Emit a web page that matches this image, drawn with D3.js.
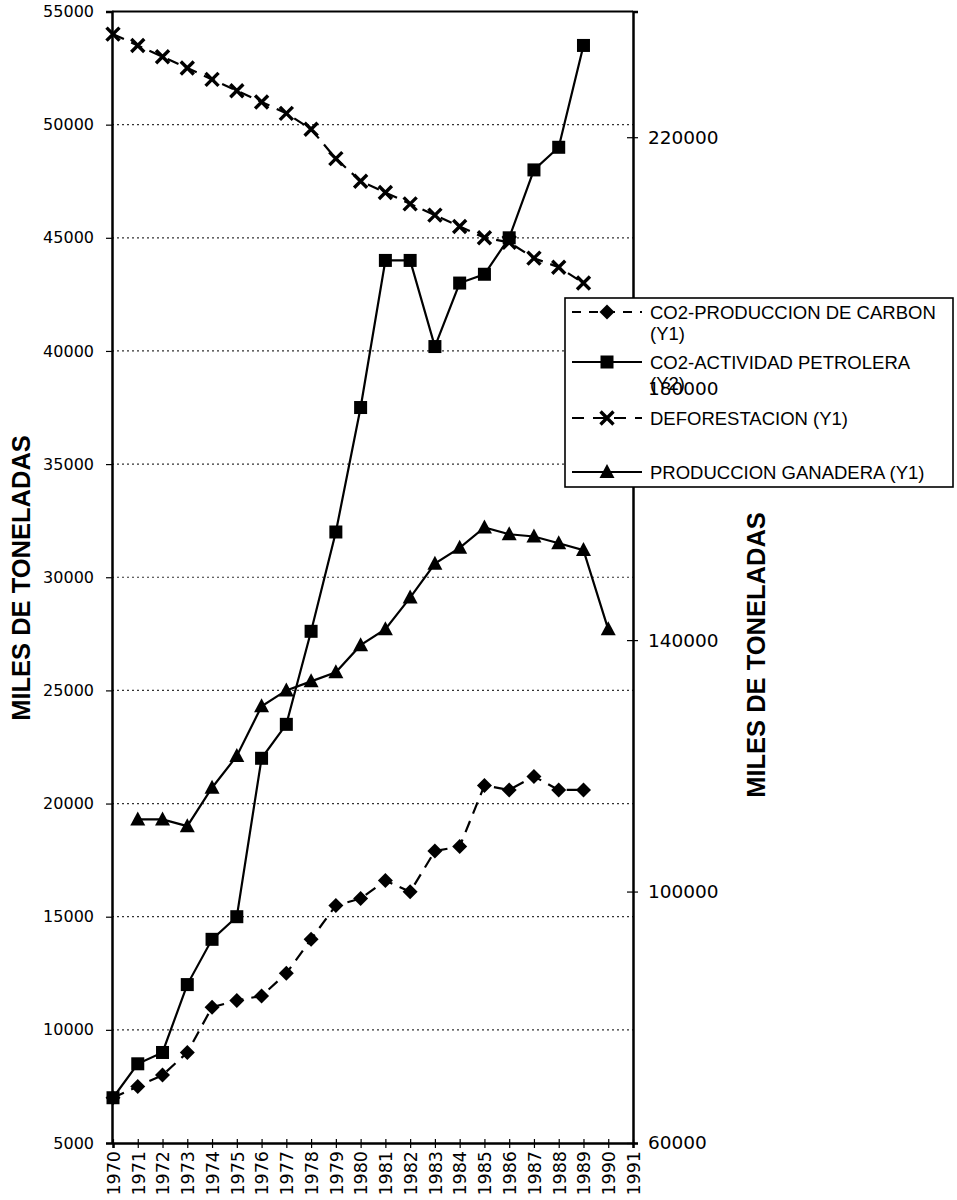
<!DOCTYPE html>
<html>
<head>
<meta charset="utf-8">
<script src="https://cdn.jsdelivr.net/npm/d3@7"></script>
<style>
  html, body { margin: 0; padding: 0; background: #fff; }
  svg { display: block; }
</style>
</head>
<body>
<svg id="chart" width="957" height="1200"></svg>
<script>
// Years shown on the category axis
const yearLabels = [1970, 1971, 1972, 1973, 1974, 1975, 1976, 1977, 1978, 1979, 1980,
                    1981, 1982, 1983, 1984, 1985, 1986, 1987, 1988, 1989, 1990, 1991];

// Tick values for both value axes
const leftTicks = [5000, 10000, 15000, 20000, 25000, 30000, 35000, 40000, 45000, 50000, 55000];
const rightTicks = [60000, 100000, 140000, 180000, 220000];

// CO2 from coal production (Y1), 1970-1989
const coalYears = [1970, 1971, 1972, 1973, 1974, 1975, 1976, 1977, 1978, 1979,
                   1980, 1981, 1982, 1983, 1984, 1985, 1986, 1987, 1988, 1989];
const coalValues = [7000, 7500, 8000, 9000, 11000, 11300, 11500, 12500, 14000, 15500,
                    15800, 16600, 16100, 17900, 18100, 20800, 20600, 21200, 20600, 20600];

// CO2 from oil activity (Y2), 1970-1989
const oilYears = coalYears;
const oilValues = [67200, 72600, 74400, 85200, 92400, 96000, 121200, 126600, 141400, 157200,
                   177000, 200400, 200400, 186700, 196800, 198200, 204000, 214800, 218400, 234600];

// Deforestation (Y1), 1970-1989
const deforYears = coalYears;
const deforValues = [54000, 53500, 53000, 52500, 52000, 51500, 51000, 50500, 49800, 48500,
                     47500, 47000, 46500, 46000, 45500, 45000, 44800, 44100, 43700, 43000];

// Livestock production (Y1), 1971-1990
const cattleYears = [1971, 1972, 1973, 1974, 1975, 1976, 1977, 1978, 1979, 1980,
                     1981, 1982, 1983, 1984, 1985, 1986, 1987, 1988, 1989, 1990];
const cattleValues = [19300, 19300, 19000, 20700, 22100, 24300, 25000, 25400, 25800, 27000,
                      27700, 29100, 30600, 31300, 32200, 31900, 31800, 31500, 31200, 27700];

const legendNames = ["CO2-PRODUCCION DE CARBON", "CO2-ACTIVIDAD PETROLERA",
                     "DEFORESTACION (Y1)", "PRODUCCION GANADERA (Y1)"];
const axisTitle = "MILES DE TONELADAS";

// ---- layout ----
const plot = { left: 112, right: 633, top: 11.5, bottom: 1143 };
const svg = d3.select("#chart");

const x = d3.scaleLinear().domain([1970, 1991]).range([plot.left + 1, plot.right]);
const yL = d3.scaleLinear().domain([5000, 55000]).range([plot.bottom, plot.top]);
const yR = d3.scaleLinear().domain([60000, 240000]).range([plot.bottom, plot.top]);

const tickFont = "'DejaVu Sans', Verdana, sans-serif";
const textFont = "'Liberation Sans', Arial, sans-serif";

// ---- gridlines (dotted, from left axis) ----
svg.append("g")
  .selectAll("line")
  .data(leftTicks.filter(v => v > 5000 && v < 55000))
  .join("line")
  .attr("x1", plot.left).attr("x2", plot.right)
  .attr("y1", d => yL(d)).attr("y2", d => yL(d))
  .attr("stroke", "#333").attr("stroke-width", 1.2)
  .attr("stroke-dasharray", "2,3");

// top border
svg.append("line")
  .attr("x1", plot.left).attr("x2", plot.right)
  .attr("y1", plot.top).attr("y2", plot.top)
  .attr("stroke", "#000").attr("stroke-width", 2.2);

// ---- left axis ----
const gLeft = svg.append("g")
  .attr("transform", `translate(${plot.left},0)`)
  .call(d3.axisLeft(yL).tickValues(leftTicks).tickSize(6).tickPadding(12).tickFormat(d3.format("d")));
gLeft.select(".domain").attr("stroke-width", 2.5).attr("stroke", "#000");
gLeft.selectAll(".tick line").attr("stroke-width", 1.2);
gLeft.selectAll("text").attr("font-family", tickFont).attr("font-size", 16).attr("fill", "#000");

// ---- bottom axis ----
const gBottom = svg.append("g")
  .attr("transform", `translate(0,${plot.bottom})`)
  .call(d3.axisBottom(x).tickValues(yearLabels).tickSize(5).tickFormat(d3.format("d")));
gBottom.select(".domain").attr("stroke-width", 2.5).attr("stroke", "#000");
gBottom.selectAll(".tick line").attr("y1", -4).attr("stroke-width", 1.2);
gBottom.selectAll("text")
  .attr("font-family", tickFont).attr("font-size", 17.5).attr("fill", "#000")
  .attr("text-anchor", "end")
  .attr("transform", "rotate(-90)")
  .attr("x", -8).attr("y", 0).attr("dy", "0.36em");

// ---- right axis (line and tick marks) ----
const gRight = svg.append("g")
  .attr("transform", `translate(${plot.right},0)`)
  .call(d3.axisRight(yR).tickValues(rightTicks).tickSize(5).tickFormat(""));
gRight.select(".domain").attr("stroke-width", 2.5).attr("stroke", "#000");
gRight.selectAll(".tick line").attr("x1", -6).attr("stroke-width", 1.2);

// ---- axis titles ----
svg.append("text")
  .attr("transform", `translate(30,578) rotate(-90)`)
  .attr("text-anchor", "middle")
  .attr("font-family", textFont).attr("font-weight", "bold").attr("font-size", 25.5)
  .text(axisTitle);
svg.append("text")
  .attr("transform", `translate(765,655) rotate(-90)`)
  .attr("text-anchor", "middle")
  .attr("font-family", textFont).attr("font-weight", "bold").attr("font-size", 25.5)
  .text(axisTitle);

// ---- markers ----
function drawMarker(g, type, cx, cy) {
  if (type === "square") {
    g.append("rect").attr("x", cx - 6.5).attr("y", cy - 6.5).attr("width", 13).attr("height", 13).attr("fill", "#000");
  } else if (type === "diamond") {
    g.append("path").attr("d", `M${cx},${cy - 7.5}L${cx + 7.5},${cy}L${cx},${cy + 7.5}L${cx - 7.5},${cy}Z`).attr("fill", "#000");
  } else if (type === "cross") {
    g.append("path").attr("d", `M${cx - 6.5},${cy - 6.5}L${cx + 6.5},${cy + 6.5}M${cx - 6.5},${cy + 6.5}L${cx + 6.5},${cy - 6.5}`)
      .attr("stroke", "#000").attr("stroke-width", 3.4).attr("fill", "none");
  } else if (type === "triangle") {
    g.append("path").attr("d", `M${cx},${cy - 8}L${cx + 7.5},${cy + 6}L${cx - 7.5},${cy + 6}Z`).attr("fill", "#000");
  }
}

const series = [
  { years: coalYears, values: coalValues, y: yL, dash: "12,8", marker: "diamond" },
  { years: oilYears, values: oilValues, y: yR, dash: null, marker: "square" },
  { years: deforYears, values: deforValues, y: yL, dash: "12,8", marker: "cross" },
  { years: cattleYears, values: cattleValues, y: yL, dash: null, marker: "triangle" }
];

const gSeries = svg.append("g");
series.forEach(s => {
  const pts = s.years.map((yr, i) => [x(yr), s.y(s.values[i])]);
  gSeries.append("path")
    .attr("d", d3.line()(pts))
    .attr("fill", "none").attr("stroke", "#000").attr("stroke-width", 2.2)
    .attr("stroke-dasharray", s.dash);
  const gm = gSeries.append("g");
  pts.forEach(p => drawMarker(gm, s.marker, p[0], p[1]));
});

// ---- legend ----
const lg = svg.append("g");
lg.append("rect")
  .attr("x", 565).attr("y", 298).attr("width", 388).attr("height", 189)
  .attr("fill", "#fff").attr("stroke", "#000").attr("stroke-width", 1.6);

const legendRows = [
  { cy: 312, dash: "9,8", marker: "diamond", lines: [legendNames[0], "(Y1)"] },
  { cy: 362, dash: null, marker: "square", lines: [legendNames[1], "(Y2)"] },
  { cy: 418, dash: "12,9", marker: "cross", lines: [legendNames[2]] },
  { cy: 472, dash: null, marker: "triangle", lines: [legendNames[3]] }
];
legendRows.forEach(r => {
  lg.append("line")
    .attr("x1", 572).attr("x2", 642).attr("y1", r.cy).attr("y2", r.cy)
    .attr("stroke", "#000").attr("stroke-width", 2.2)
    .attr("stroke-dasharray", r.dash);
  drawMarker(lg, r.marker, 607, r.cy);
  r.lines.forEach((t, i) => {
    lg.append("text")
      .attr("x", 650).attr("y", r.cy + 7 + i * 21)
      .attr("font-family", textFont).attr("font-size", 18.5).attr("fill", "#000")
      .text(t);
  });
});

// ---- right axis labels (drawn last, above the legend) ----
const gRightLabels = svg.append("g")
  .attr("transform", `translate(${plot.right},0)`)
  .call(d3.axisRight(yR).tickValues(rightTicks).tickSize(0).tickPadding(15).tickFormat(d3.format("d")));
gRightLabels.select(".domain").remove();
gRightLabels.selectAll("text").attr("font-family", tickFont).attr("font-size", 18.5).attr("fill", "#000");
</script>
</body>
</html>
